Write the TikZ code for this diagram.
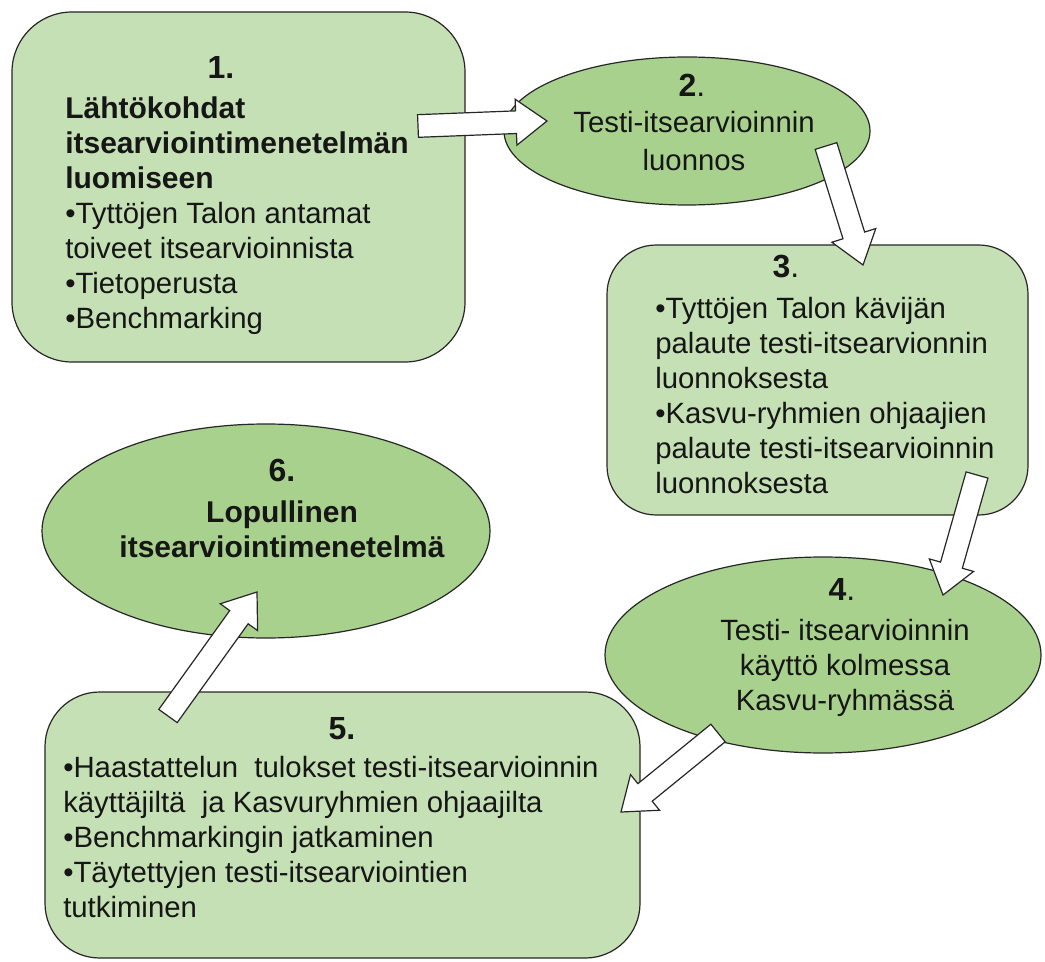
\documentclass[tikz,border=0pt]{standalone}
\usepackage{fontspec}
\setmainfont{Liberation Sans}
\usetikzlibrary{calc,shapes.geometric}
\definecolor{boxgreen}{RGB}{197,224,180}
\definecolor{ellgreen}{RGB}{169,209,142}
\definecolor{txtcol}{RGB}{22,22,22}
\tikzset{
  stepbox/.style={draw=black!85, line width=0.9pt, fill=boxgreen, rectangle, inner sep=0pt},
  stepell/.style={draw=black!85, line width=0.9pt, fill=ellgreen, ellipse, inner sep=0pt},
  numlabel/.style={font=\fontsize{24}{28}\selectfont\bfseries, text=txtcol, inner sep=0pt, anchor=base},
  bodyleft/.style={font=\fontsize{22}{26.25}\selectfont, align=left, text=txtcol, inner sep=0pt, anchor=north west},
  bodycenter/.style={font=\fontsize{22}{26.25}\selectfont, align=center, text=txtcol, inner sep=0pt, anchor=north},
  blockarrow/.style={draw=black!85, line width=0.9pt, fill=white, line join=miter},
}
\newcommand{\blkarrow}[2]{%
  \coordinate (hb) at ($(#2)!23.25pt!(#1)$);
  \draw[blockarrow] ($(#1)!8.5pt!90:(#2)$) -- ($(hb)!8.5pt!-90:(#1)$) -- ($(hb)!17.25pt!-90:(#1)$) -- (#2) -- ($(hb)!17.25pt!90:(#1)$) -- ($(hb)!8.5pt!90:(#1)$) -- ($(#1)!8.5pt!-90:(#2)$) -- cycle;%
}
\begin{document}
\begin{tikzpicture}[x=0.75pt,y=-0.75pt]
\useasboundingbox (0,0) rectangle (1045,962);
% shapes
\node[stepbox, rounded corners=45pt, minimum width=339.75pt, minimum height=262.5pt] (b1) at (238.5,187) {};
\node[stepell, minimum width=274.5pt, minimum height=111pt] (b2) at (687,131) {};
\node[stepbox, rounded corners=37pt, minimum width=315.75pt, minimum height=202.5pt] (b3) at (817.5,380) {};
\node[stepell, minimum width=327pt, minimum height=147pt] (b4) at (823,655) {};
\node[stepbox, rounded corners=41pt, minimum width=446.25pt, minimum height=199.5pt] (b5) at (342.5,825) {};
\node[stepell, minimum width=336pt, minimum height=160.5pt] (b6) at (266,531) {};
% texts
\node[numlabel] (n1) at (221,79) {1.};
\node[bodyleft] (t1) at (65,96) {\bfseries\fontsize{22.5}{26.25}\selectfont Lähtökohdat\\ \bfseries\fontsize{22.5}{26.25}\selectfont itsearviointimenetelmän\\ \bfseries\fontsize{22.5}{26.25}\selectfont luomiseen\\ •Tyttöjen Talon antamat\\ toiveet itsearvioinnista\\ •Tietoperusta\\ •Benchmarking};
\node[numlabel] (n2) at (692,97) {2\mdseries.};
\node[bodycenter, font=\fontsize{22}{28.5}\selectfont] (t2) at (694,111) {Testi-itsearvioinnin\\ luonnos};
\node[numlabel] (n3) at (786,278) {3\mdseries.};
\node[bodyleft] (t3) at (655,297) {•Tyttöjen Talon kävijän\\ palaute testi-itsearvionnin\\ luonnoksesta\\ •Kasvu-ryhmien ohjaajien\\ palaute testi-itsearvioinnin\\ luonnoksesta};
\node[numlabel] (n4) at (842,600) {4\mdseries.};
\node[bodycenter] (t4) at (845,619) {Testi- itsearvioinnin\\ käyttö kolmessa\\ Kasvu-ryhmässä};
\node[numlabel] (n5) at (342,739) {5.};
\node[bodyleft] (t5) at (63,756) {•Haastattelun~ tulokset testi-itsearvioinnin\\ käyttäjiltä~ ja Kasvuryhmien ohjaajilta\\ •Benchmarkingin jatkaminen\\ •Täytettyjen testi-itsearviointien\\ tutkiminen};
\node[numlabel] (n6) at (282,481) {6.};
\node[bodycenter, font=\fontsize{22.5}{26.25}\selectfont\bfseries] (t6) at (282,500) {Lopullinen\\ itsearviointimenetelmä};
% block arrows
\coordinate (a12s) at (418,126);
\coordinate (a12e) at (547,121);
\coordinate (a23s) at (826,146);
\coordinate (a23e) at (863,265);
\coordinate (a34s) at (977,475);
\coordinate (a34e) at (943,595);
\coordinate (a45s) at (718,733);
\coordinate (a45e) at (621,812);
\coordinate (a56s) at (168,716);
\coordinate (a56e) at (257,592);
\blkarrow{a12s}{a12e}
\blkarrow{a23s}{a23e}
\blkarrow{a34s}{a34e}
\blkarrow{a45s}{a45e}
\blkarrow{a56s}{a56e}
\end{tikzpicture}
\end{document}
